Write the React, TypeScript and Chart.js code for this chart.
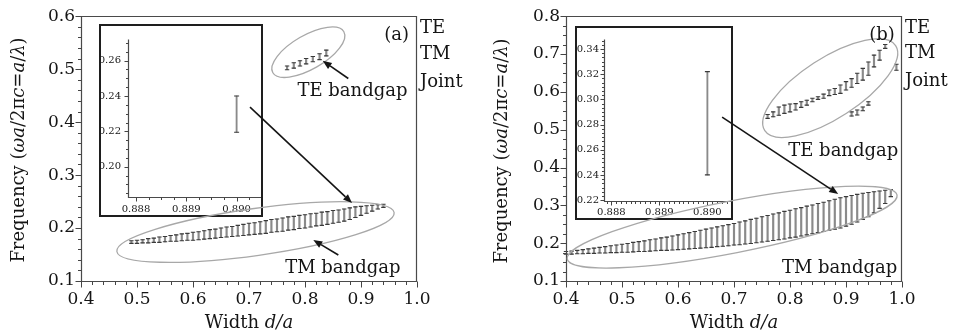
import React, { useEffect, useRef } from "react";
import { Chart, registerables } from "chart.js";
Chart.register(...registerables);

const SERIF = '"DejaVu Serif", "Liberation Serif", serif';
const INK = "#151515";

// ---------------- panel (a) data ----------------
const A_TM_X = [0.49, 0.50, 0.51, 0.52, 0.53, 0.54, 0.55, 0.56, 0.57, 0.58, 0.59, 0.60, 0.61, 0.62, 0.63, 0.64, 0.65, 0.66, 0.67, 0.68, 0.69, 0.70, 0.71, 0.72, 0.73, 0.74, 0.75, 0.76, 0.77, 0.78, 0.79, 0.80, 0.81, 0.82, 0.83, 0.84, 0.85, 0.86, 0.87, 0.88, 0.89, 0.90, 0.91, 0.92, 0.93, 0.94];
const A_TM_LO = [0.171, 0.171, 0.172, 0.172, 0.173, 0.173, 0.174, 0.175, 0.175, 0.176, 0.177, 0.177, 0.178, 0.179, 0.180, 0.181, 0.182, 0.183, 0.184, 0.185, 0.186, 0.187, 0.188, 0.189, 0.190, 0.192, 0.193, 0.194, 0.196, 0.197, 0.199, 0.200, 0.202, 0.204, 0.205, 0.207, 0.209, 0.211, 0.213, 0.216, 0.220, 0.224, 0.228, 0.232, 0.236, 0.239];
const A_TM_HI = [0.176, 0.177, 0.178, 0.180, 0.181, 0.183, 0.184, 0.186, 0.187, 0.189, 0.190, 0.192, 0.193, 0.195, 0.197, 0.198, 0.200, 0.202, 0.203, 0.205, 0.207, 0.209, 0.210, 0.212, 0.214, 0.216, 0.217, 0.219, 0.221, 0.222, 0.224, 0.225, 0.227, 0.228, 0.230, 0.231, 0.233, 0.234, 0.236, 0.238, 0.240, 0.241, 0.242, 0.243, 0.244, 0.245];
const A_TE_X = [0.768, 0.780, 0.791, 0.802, 0.814, 0.826, 0.838];
const A_TE_LO = [0.499, 0.502, 0.506, 0.510, 0.514, 0.518, 0.525];
const A_TE_HI = [0.506, 0.512, 0.516, 0.520, 0.524, 0.529, 0.536];
const A_INSET_X = [0.890];
const A_INSET_LO = [0.2195];
const A_INSET_HI = [0.240];

// ---------------- panel (b) data ----------------
const B_TM_X = [0.40, 0.41, 0.42, 0.43, 0.44, 0.45, 0.46, 0.47, 0.48, 0.49, 0.50, 0.51, 0.52, 0.53, 0.54, 0.55, 0.56, 0.57, 0.58, 0.59, 0.60, 0.61, 0.62, 0.63, 0.64, 0.65, 0.66, 0.67, 0.68, 0.69, 0.70, 0.71, 0.72, 0.73, 0.74, 0.75, 0.76, 0.77, 0.78, 0.79, 0.80, 0.81, 0.82, 0.83, 0.84, 0.85, 0.86, 0.87, 0.88, 0.89, 0.90, 0.91, 0.92, 0.93, 0.94, 0.95, 0.96, 0.97, 0.98];
const B_TM_LO = [0.171, 0.171, 0.172, 0.172, 0.173, 0.173, 0.174, 0.174, 0.175, 0.175, 0.176, 0.176, 0.177, 0.178, 0.178, 0.179, 0.180, 0.181, 0.181, 0.182, 0.183, 0.184, 0.185, 0.186, 0.187, 0.188, 0.189, 0.191, 0.192, 0.193, 0.195, 0.196, 0.198, 0.199, 0.201, 0.203, 0.205, 0.207, 0.209, 0.211, 0.214, 0.216, 0.219, 0.222, 0.225, 0.228, 0.231, 0.234, 0.237, 0.240, 0.245, 0.250, 0.256, 0.263, 0.270, 0.280, 0.292, 0.305, 0.323];
const B_TM_HI = [0.178, 0.179, 0.181, 0.183, 0.185, 0.187, 0.189, 0.191, 0.193, 0.195, 0.197, 0.199, 0.202, 0.204, 0.206, 0.209, 0.211, 0.214, 0.216, 0.219, 0.222, 0.225, 0.228, 0.231, 0.234, 0.237, 0.240, 0.243, 0.246, 0.249, 0.252, 0.256, 0.259, 0.263, 0.266, 0.270, 0.273, 0.277, 0.280, 0.284, 0.287, 0.291, 0.294, 0.298, 0.301, 0.305, 0.308, 0.312, 0.316, 0.320, 0.323, 0.326, 0.329, 0.332, 0.334, 0.336, 0.338, 0.340, 0.342];
const B_TE_X = [0.76, 0.77, 0.78, 0.79, 0.80, 0.81, 0.82, 0.83, 0.84, 0.85, 0.86, 0.87, 0.88, 0.89, 0.90, 0.91, 0.92, 0.93, 0.94, 0.95, 0.96, 0.97, 0.99];
const B_TE_LO = [0.530, 0.534, 0.538, 0.543, 0.547, 0.552, 0.559, 0.565, 0.574, 0.580, 0.583, 0.590, 0.593, 0.596, 0.605, 0.612, 0.622, 0.631, 0.644, 0.666, 0.684, 0.715, 0.657];
const B_TE_HI = [0.540, 0.547, 0.560, 0.565, 0.568, 0.569, 0.574, 0.578, 0.583, 0.587, 0.594, 0.605, 0.609, 0.618, 0.627, 0.635, 0.649, 0.662, 0.679, 0.697, 0.710, 0.725, 0.673];
const B_TE2_X = [0.91, 0.92, 0.93, 0.94];
const B_TE2_LO = [0.536, 0.539, 0.550, 0.565];
const B_TE2_HI = [0.547, 0.552, 0.560, 0.574];
const B_INSET_X = [0.890];
const B_INSET_LO = [0.240];
const B_INSET_HI = [0.322];

// ---------------- axis ticks ----------------
const X_TICKS = [0.4, 0.5, 0.6, 0.7, 0.8, 0.9, 1.0];
const A_Y_TICKS = [0.1, 0.2, 0.3, 0.4, 0.5, 0.6];
const B_Y_TICKS = [0.1, 0.2, 0.3, 0.4, 0.5, 0.6, 0.7, 0.8];
const INSET_X_TICKS = [0.888, 0.889, 0.890];
const A_INSET_Y_TICKS = [0.20, 0.22, 0.24, 0.26];
const B_INSET_Y_TICKS = [0.22, 0.24, 0.26, 0.28, 0.30, 0.32, 0.34];

const LEGEND_LABELS = ["TE", "TM", "Joint"];
const X_TITLE = [{ t: "Width " }, { t: "d/a", i: true }];
const Y_TITLE = [
  { t: "Frequency (" }, { t: "ωa", i: true }, { t: "/2π" }, { t: "c", i: true },
  { t: "=" }, { t: "a", i: true }, { t: "/" }, { t: "λ", i: true }, { t: ")" },
];

type Part = { t: string; i?: boolean };
type Series = { label: string; x: number[]; lo: number[]; hi: number[] };
type Pt = [number, number];
type Cfg = {
  width: number; height: number;
  padTop: number; padRight: number; yAxisW: number; xAxisH: number;
  xRange: [number, number]; yRange: [number, number];
  xTicks: number[]; yTicks: number[]; xMinor: number; yMinor: number;
  xDigits: number; yDigits: number; tickFont: number; padX: number; padY: number;
  majorLen: number; minorLen: number; fullFrame: boolean;
  series: Series[]; capHalf: number; barW: number;
  ellipses?: { c: Pt; rx: number; ry: number; rot: number }[];
  arrows?: { from: Pt; to: Pt }[];
  labels?: { at: Pt; text: string }[];
  legendBase?: number[];
  yTitleX?: number; yTitleY?: number; xTitleBase?: number;
};

function drawRich(ctx: CanvasRenderingContext2D, parts: Part[], x: number, y: number, size: number) {
  const fonts = parts.map((p) => `${p.i ? "italic " : ""}${size}px ${SERIF}`);
  const widths = parts.map((p, k) => { ctx.font = fonts[k]; return ctx.measureText(p.t).width; });
  const total = widths.reduce((a, b) => a + b, 0);
  let cx = x - total / 2;
  ctx.textAlign = "left";
  ctx.textBaseline = "alphabetic";
  parts.forEach((p, k) => { ctx.font = fonts[k]; ctx.fillText(p.t, cx, y); cx += widths[k]; });
}

function stepValues(min: number, max: number, step: number) {
  const out: number[] = [];
  const k0 = Math.ceil(min / step - 1e-6), k1 = Math.floor(max / step + 1e-6);
  for (let k = k0; k <= k1; k++) out.push(k * step);
  return out;
}

function decoPlugin(cfg: Cfg) {
  return {
    id: "deco",
    afterDatasetsDraw(chart: any) {
      const ctx: CanvasRenderingContext2D = chart.ctx;
      const { left, right, top, bottom } = chart.chartArea;
      const xs = chart.scales.x, ys = chart.scales.y;
      const px = (v: number) => xs.getPixelForValue(v);
      const py = (v: number) => ys.getPixelForValue(v);
      ctx.save();
      // error-bar caps
      ctx.strokeStyle = "#3a3a3a";
      ctx.lineWidth = 1.1;
      chart.data.datasets.forEach((_: any, di: number) => {
        chart.getDatasetMeta(di).data.forEach((el: any) => {
          ctx.beginPath();
          ctx.moveTo(el.x - cfg.capHalf, el.y); ctx.lineTo(el.x + cfg.capHalf, el.y);
          ctx.moveTo(el.x - cfg.capHalf, el.base); ctx.lineTo(el.x + cfg.capHalf, el.base);
          ctx.stroke();
        });
      });
      // frame
      const L = Math.round(left) + 0.5, B = Math.round(bottom) + 0.5;
      const T = Math.round(top) + 0.5, R = Math.round(right) - 0.5;
      ctx.strokeStyle = "#4a4a4a";
      ctx.lineWidth = 1.2;
      ctx.beginPath();
      if (cfg.fullFrame) {
        ctx.rect(L, T, R - L, B - T);
      } else {
        ctx.moveTo(L, T); ctx.lineTo(L, B); ctx.lineTo(R + 1, B);
      }
      ctx.stroke();
      // ticks
      ctx.lineWidth = 1;
      ctx.strokeStyle = "#444";
      ctx.beginPath();
      const [x0, x1] = cfg.xRange, [y0, y1] = cfg.yRange;
      stepValues(x0, x1, cfg.xMinor).forEach((v) => {
        const major = cfg.xTicks.some((m) => Math.abs(m - v) < cfg.xMinor / 10);
        const p = Math.round(px(v)) + 0.5;
        ctx.moveTo(p, B); ctx.lineTo(p, B + (major ? cfg.majorLen : cfg.minorLen));
      });
      stepValues(y0, y1, cfg.yMinor).forEach((v) => {
        const major = cfg.yTicks.some((m) => Math.abs(m - v) < cfg.yMinor / 10);
        const p = Math.round(py(v)) + 0.5;
        ctx.moveTo(L, p); ctx.lineTo(L - (major ? cfg.majorLen : cfg.minorLen), p);
      });
      ctx.stroke();
      // ellipses
      ctx.strokeStyle = "#a8a8a8";
      ctx.lineWidth = 1.3;
      (cfg.ellipses || []).forEach((e) => {
        ctx.beginPath();
        ctx.ellipse(px(e.c[0]), py(e.c[1]), e.rx, e.ry, (e.rot * Math.PI) / 180, 0, Math.PI * 2);
        ctx.stroke();
      });
      // arrows
      ctx.strokeStyle = INK;
      ctx.fillStyle = INK;
      ctx.lineWidth = 1.6;
      (cfg.arrows || []).forEach((a) => {
        const ax = px(a.from[0]), ay = py(a.from[1]);
        const bx = px(a.to[0]), by = py(a.to[1]);
        const ang = Math.atan2(by - ay, bx - ax);
        const hl = 9, hw = 3.6;
        const cx = bx - hl * Math.cos(ang), cy = by - hl * Math.sin(ang);
        ctx.beginPath(); ctx.moveTo(ax, ay); ctx.lineTo(cx, cy); ctx.stroke();
        ctx.beginPath();
        ctx.moveTo(bx, by);
        ctx.lineTo(cx + hw * Math.sin(ang), cy - hw * Math.cos(ang));
        ctx.lineTo(cx - hw * Math.sin(ang), cy + hw * Math.cos(ang));
        ctx.closePath(); ctx.fill();
      });
      // text labels
      ctx.fillStyle = INK;
      (cfg.labels || []).forEach((l) => {
        ctx.font = `18px ${SERIF}`;
        ctx.textAlign = "center";
        ctx.textBaseline = "alphabetic";
        ctx.fillText(l.text, px(l.at[0]), py(l.at[1]));
      });
      // legend texts
      if (cfg.legendBase) {
        ctx.font = `18px ${SERIF}`;
        ctx.textAlign = "left";
        ctx.textBaseline = "alphabetic";
        LEGEND_LABELS.forEach((t, k) => ctx.fillText(t, right + 3, cfg.legendBase![k]));
      }
      // axis titles
      if (cfg.xTitleBase) drawRich(ctx, X_TITLE, (left + right) / 2, cfg.xTitleBase, 18);
      if (cfg.yTitleX) {
        ctx.save();
        ctx.translate(cfg.yTitleX, cfg.yTitleY!);
        ctx.rotate(-Math.PI / 2);
        drawRich(ctx, Y_TITLE, 0, 0, 18);
        ctx.restore();
      }
      ctx.restore();
    },
  };
}

function build(canvas: HTMLCanvasElement, cfg: Cfg) {
  const tickFont = { family: SERIF, size: cfg.tickFont };
  return new Chart(canvas, {
    type: "bar",
    data: {
      datasets: cfg.series.map((s) => ({
        label: s.label,
        data: s.x.map((v, i) => ({ x: v, y: [s.lo[i], s.hi[i]] })),
        backgroundColor: "#8a8a8a",
        borderWidth: 0,
        barThickness: cfg.barW,
        grouped: false,
      })),
    } as any,
    options: {
      responsive: false,
      animation: false,
      devicePixelRatio: 1,
      events: [],
      layout: { padding: { left: 0, top: cfg.padTop, right: cfg.padRight, bottom: 0 } },
      plugins: { legend: { display: false }, tooltip: { enabled: false } },
      scales: {
        x: {
          type: "linear",
          min: cfg.xRange[0],
          max: cfg.xRange[1],
          offset: false,
          grid: { display: false, drawTicks: false, offset: false },
          border: { display: false },
          afterBuildTicks: (s: any) => { s.ticks = cfg.xTicks.map((v) => ({ value: v })); },
          afterFit: (s: any) => { s.height = cfg.xAxisH; },
          ticks: {
            autoSkip: false, maxRotation: 0, padding: cfg.padX, color: INK, font: tickFont,
            callback: (v: any) => Number(v).toFixed(cfg.xDigits),
          },
        },
        y: {
          type: "linear",
          min: cfg.yRange[0],
          max: cfg.yRange[1],
          grid: { display: false, drawTicks: false },
          border: { display: false },
          afterBuildTicks: (s: any) => { s.ticks = cfg.yTicks.map((v) => ({ value: v })); },
          afterFit: (s: any) => { s.width = cfg.yAxisW; },
          ticks: {
            autoSkip: false, padding: cfg.padY, color: INK, font: tickFont,
            callback: (v: any) => Number(v).toFixed(cfg.yDigits),
          },
        },
      },
    } as any,
    plugins: [decoPlugin(cfg)],
  });
}

function ChartBox({ cfg }: { cfg: Cfg }) {
  const ref = useRef<HTMLCanvasElement>(null);
  useEffect(() => {
    const chart = build(ref.current!, cfg);
    return () => chart.destroy();
  }, []);
  return (
    <canvas ref={ref} width={cfg.width} height={cfg.height}
      style={{ display: "block", width: cfg.width, height: cfg.height }} />
  );
}

const mainA: Cfg = {
  width: 480, height: 336, padTop: 16, padRight: 63, yAxisW: 81, xAxisH: 55,
  xRange: [0.4, 1.0], yRange: [0.1, 0.6], xTicks: X_TICKS, yTicks: A_Y_TICKS,
  xMinor: 0.02, yMinor: 0.02, xDigits: 1, yDigits: 1, tickFont: 17, padX: 8, padY: 6,
  majorLen: 6, minorLen: 3.5, fullFrame: true, capHalf: 2.2, barW: 1.5,
  series: [
    { label: "TE", x: A_TE_X, lo: A_TE_LO, hi: A_TE_HI },
    { label: "TM", x: A_TM_X, lo: A_TM_LO, hi: A_TM_HI },
  ],
  ellipses: [
    { c: [0.806, 0.532], rx: 41, ry: 17, rot: -30 },
    { c: [0.7116, 0.1925], rx: 140, ry: 23.5, rot: -8 },
  ],
  arrows: [
    { from: [0.7018, 0.4283], to: [0.884, 0.2472] },
    { from: [0.8773, 0.4824], to: [0.8316, 0.5157] },
    { from: [0.8595, 0.149], to: [0.8148, 0.1774] },
  ],
  labels: [
    { at: [0.8848, 0.4496], text: "TE bandgap" },
    { at: [0.8675, 0.1157], text: "TM bandgap" },
    { at: [0.9637, 0.556], text: "(a)" },
  ],
  legendBase: [33.3, 59.3, 86.7],
  yTitleX: 23.5, yTitleY: 150, xTitleBase: 328,
};

const mainB: Cfg = {
  width: 478, height: 336, padTop: 16, padRight: 56, yAxisW: 86, xAxisH: 55,
  xRange: [0.4, 1.0], yRange: [0.1, 0.8], xTicks: X_TICKS, yTicks: B_Y_TICKS,
  xMinor: 0.02, yMinor: 0.025, xDigits: 1, yDigits: 1, tickFont: 17, padX: 8, padY: 6,
  majorLen: 6, minorLen: 3.5, fullFrame: true, capHalf: 2.2, barW: 1.5,
  series: [
    { label: "TE", x: B_TE_X, lo: B_TE_LO, hi: B_TE_HI },
    { label: "TE (lower)", x: B_TE2_X, lo: B_TE2_LO, hi: B_TE2_HI },
    { label: "TM", x: B_TM_X, lo: B_TM_LO, hi: B_TM_HI },
  ],
  ellipses: [
    { c: [0.8718, 0.6098], rx: 78, ry: 30, rot: -33 },
    { c: [0.6967, 0.2426], rx: 168, ry: 26, rot: -11 },
  ],
  arrows: [{ from: [0.6788, 0.5332], to: [0.8861, 0.3298] }],
  labels: [
    { at: [0.8951, 0.4302], text: "TE bandgap" },
    { at: [0.8885, 0.1219], text: "TM bandgap" },
    { at: [0.9642, 0.7384], text: "(b)" },
  ],
  legendBase: [32.7, 58.3, 86],
  yTitleX: 26.5, yTitleY: 151, xTitleBase: 328,
};

const insetA: Cfg = {
  width: 160, height: 189, padTop: 0, padRight: 0, yAxisW: 27, xAxisH: 18,
  xRange: [0.887841, 0.890485], yRange: [0.1829, 0.2722], xTicks: INSET_X_TICKS, yTicks: A_INSET_Y_TICKS,
  xMinor: 0.00025, yMinor: 0.005, xDigits: 3, yDigits: 2, tickFont: 10, padX: 6, padY: 7,
  majorLen: 4, minorLen: 2.5, fullFrame: false, capHalf: 2.5, barW: 1.2,
  series: [{ label: "TM", x: A_INSET_X, lo: A_INSET_LO, hi: A_INSET_HI }],
};

const insetB: Cfg = {
  width: 154, height: 190, padTop: 0, padRight: 0, yAxisW: 27, xAxisH: 17,
  xRange: [0.887846, 0.890492], yRange: [0.2193, 0.3479], xTicks: INSET_X_TICKS, yTicks: B_INSET_Y_TICKS,
  xMinor: 0.0001, yMinor: 0.02 / 6, xDigits: 3, yDigits: 2, tickFont: 10, padX: 5, padY: 5,
  majorLen: 4, minorLen: 2.5, fullFrame: false, capHalf: 2.5, barW: 1.2,
  series: [{ label: "TM", x: B_INSET_X, lo: B_INSET_LO, hi: B_INSET_HI }],
};

const abs = (left: number, top: number, z: number): React.CSSProperties => ({
  position: "absolute", left, top, zIndex: z,
});

export default function App() {
  return (
    <div style={{ position: "absolute", left: 0, top: 0, width: 958, height: 336, background: "#fff", overflow: "hidden" }}>
      <div style={{ ...abs(99, 24, 1), border: "2px solid #1e1e1e", background: "#fff" }}>
        <ChartBox cfg={insetA} />
      </div>
      <div style={{ ...abs(575, 26, 1), border: "2px solid #1e1e1e", background: "#fff" }}>
        <ChartBox cfg={insetB} />
      </div>
      <div style={abs(0, 0, 2)}>
        <ChartBox cfg={mainA} />
      </div>
      <div style={abs(480, 0, 2)}>
        <ChartBox cfg={mainB} />
      </div>
    </div>
  );
}
